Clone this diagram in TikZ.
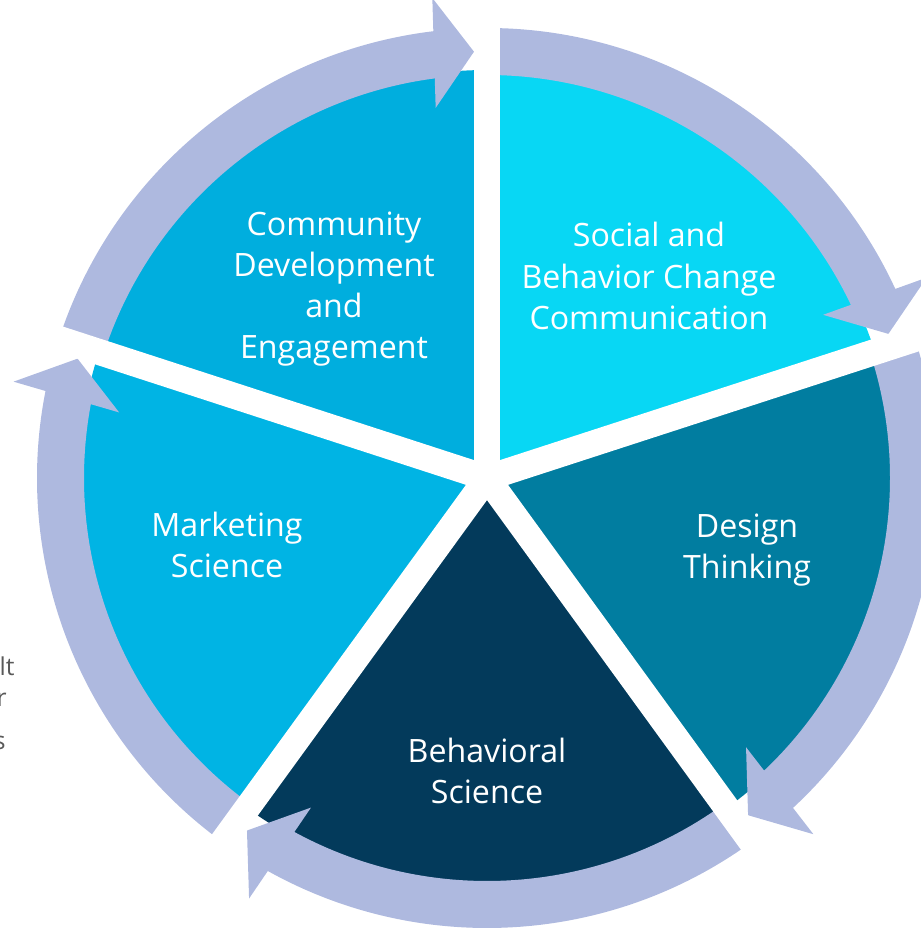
\documentclass[tikz,border=0pt]{standalone}
\usepackage{fontspec}
\setmainfont{Open Sans}
\usetikzlibrary{calc}

\definecolor{community}{HTML}{00AEDE}
\definecolor{social}{HTML}{08D7F4}
\definecolor{design}{HTML}{017DA0}
\definecolor{behavioral}{HTML}{033A5B}
\definecolor{marketing}{HTML}{00B4E4}
\definecolor{ring}{HTML}{AEB9DF}
\definecolor{sidetext}{HTML}{595959}

\begin{document}
\begin{tikzpicture}[x=0.02cm, y=0.02cm,
    label/.style={text=white, align=center, font=\fontsize{18.3}{23.5}\selectfont},
    cutoff/.style={text=sidetext, anchor=base east, inner sep=0pt, font=\fontsize{14}{17}\selectfont}]
    \useasboundingbox (-487,-452) rectangle (433,478);

    % Draw the five segments
    \foreach \a/\col in {18/social, 90/community, 162/marketing, 234/behavioral, 306/design}
        \fill[\col] (0,0) -- (\a:408) arc[start angle=\a, end angle=\a+72, radius=408] -- cycle;

    % Draw the ring arrows (tail angle / tip angle)
    \foreach \tail/\tip in {162/91.75, 90/19.75, 18/-52.25, -54/-124.25, 234/163.75} {
        \fill[ring] (\tail:403) arc[start angle=\tail, end angle=\tip+4.7, radius=403]
            -- (\tip+4.7:450) arc[start angle=\tip+4.7, end angle=\tail, radius=450] -- cycle;
        \fill[ring] (\tip:426.5) -- ($(\tip:426.5)+(\tip+90:40)+(\tip:55)$)
            -- ($(\tip:426.5)+(\tip+90:40)+(\tip:-55)$) -- cycle;
    }

    % White gaps between the segments
    \foreach \a in {18, 90, 162, 234, 306}
        \draw[white, line width=0.52cm] (0,0) -- (\a:470);

    % Labels
    \node[label] (community) at (-153, 189) {Community\\Development\\and\\Engagement};
    \node[label] (social) at (162, 202) {Social and\\Behavior Change\\Communication};
    \node[label] (design) at (260, -72) {Design\\Thinking};
    \node[label] (behavioral) at (0, -293) {Behavioral\\Science};
    \node[label] (marketing) at (-260, -67) {Marketing\\Science};

    % Text cut off at the left edge
    \node[cutoff] (cutA) at (-472, -197) {lt};
    \node[cutoff] (cutB) at (-480, -228) {r};
    \node[cutoff] (cutC) at (-481, -271) {s};
\end{tikzpicture}
\end{document}
